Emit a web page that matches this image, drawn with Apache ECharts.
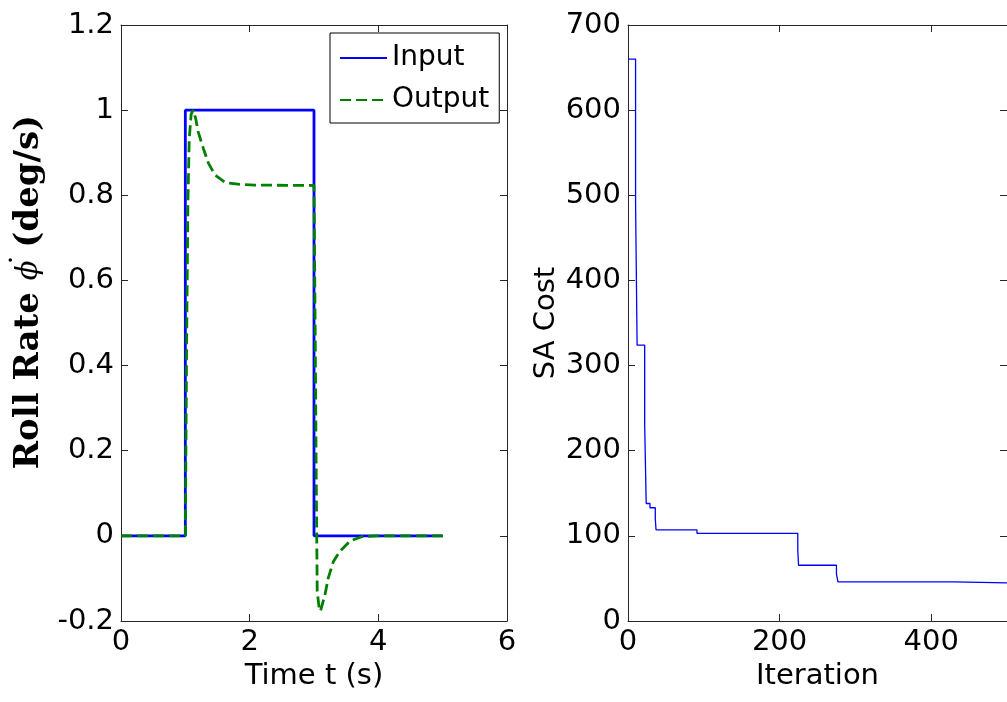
<!DOCTYPE html>
<html><head><meta charset="utf-8">
<script src="https://cdn.jsdelivr.net/npm/echarts@6/dist/echarts.min.js"></script>
<style>html,body{margin:0;padding:0;background:#fff;overflow:hidden}#c{width:1007px;height:702px}</style>
</head><body><div id="c"></div>
<script>
// ---- data ----
const timeTicks = [0, 2, 4, 6];
const rateTicks = [-0.2, 0, 0.2, 0.4, 0.6, 0.8, 1, 1.2];
const iterTicks = [0, 200, 400];
const iterMax = 500;
const costTicks = [0, 100, 200, 300, 400, 500, 600, 700];

const inputT = [0, 1, 1, 3, 3, 5];
const inputV = [0, 0, 1, 1, 0, 0];

const outputT = [0, 1.0, 1.02, 1.04, 1.06, 1.09, 1.12, 1.16, 1.2, 1.28, 1.36, 1.46, 1.62, 1.82, 2.08, 3.0, 3.02, 3.035, 3.05, 3.08, 3.10, 3.17, 3.22, 3.30, 3.40, 3.56, 3.74, 3.97, 5.0];
const outputV = [0, 0, 0.45, 0.78, 0.93, 0.99, 1.0, 0.981, 0.949, 0.91, 0.875, 0.848, 0.83, 0.826, 0.824, 0.823, 0.45, 0.13, -0.13, -0.17, -0.177, -0.139, -0.10, -0.061, -0.037, -0.012, -0.002, 0, 0];

const costIter = [0, 10, 12, 22, 24, 29, 36, 37, 91, 224, 225, 275, 277, 430, 500];
const costVal  = [660, 491, 324, 231, 138, 133, 120, 107, 103, 83, 65.5, 55, 46, 44.7, 44.7];

// ---- chart ----
const zip = (a, b) => a.map((v, i) => [v, b[i]]);
const SANS = 'DejaVu Sans';
const AX = '#262626';
const FS = 29;

function axisBase(ticks, max, gridIndex) {
  const interval = ticks[1] - ticks[0];
  return {
    gridIndex, type: 'value', min: ticks[0], max: max, interval,
    axisLine: { show: true, onZero: false, lineStyle: { color: AX, width: 1 } },
    axisTick: { show: true, inside: true, length: 7, lineStyle: { color: AX } },
    splitLine: { show: false },
    axisLabel: { show: true, color: '#000', fontFamily: SANS, fontSize: FS, margin: 7 }
  };
}
function mirror(ax, pos) {
  return Object.assign({}, ax, { position: pos, name: '', axisLabel: { show: false } });
}

const LBL = 34;
const xLeft = Object.assign(axisBase(timeTicks, timeTicks[timeTicks.length - 1], 0), {
  position: 'bottom', name: 'Time t (s)', nameLocation: 'middle', nameGap: 41,
  nameTextStyle: { color: '#000', fontFamily: SANS, fontSize: FS }
});
const yLeft = Object.assign(axisBase(rateTicks, rateTicks[rateTicks.length - 1], 0), {
  position: 'left', nameLocation: 'middle', nameGap: 72, nameRotate: 90,
  name: '{b|Roll Rate }{i|\u03D5}{d|\u02D9}{b| (deg/s)}',
  nameTextStyle: {
    color: '#000', padding: [0, 0, 0, 62],
    rich: {
      b: { fontFamily: 'DejaVu Serif', fontWeight: 'bold', fontSize: LBL, color: '#000', lineHeight: 40 },
      i: { fontFamily: 'DejaVu Serif', fontStyle: 'italic', fontSize: 29, color: '#000', lineHeight: 40 },
      d: { fontFamily: 'DejaVu Serif', fontSize: 30, color: '#000', width: 1, align: 'right', verticalAlign: 'top', lineHeight: 24 }
    }
  }
});
const xRight = Object.assign(axisBase(iterTicks, iterMax, 1), {
  position: 'bottom', name: 'Iteration', nameLocation: 'middle', nameGap: 41,
  nameTextStyle: { color: '#000', fontFamily: SANS, fontSize: FS },
  axisLabel: { show: true, color: '#000', fontFamily: SANS, fontSize: FS, margin: 7, showMaxLabel: false }
});
const yRight = Object.assign(axisBase(costTicks, costTicks[costTicks.length - 1], 1), {
  position: 'left', name: 'SA Cost', nameLocation: 'middle', nameGap: 67, nameRotate: 90,
  nameTextStyle: { color: '#000', fontFamily: SANS, fontSize: FS }
});

const option = {
  animation: false,
  backgroundColor: '#fff',
  textStyle: { fontFamily: SANS },
  grid: [
    { left: 121, top: 25, width: 386, height: 596, containLabel: false },
    { left: 628, top: 25, width: 386, height: 596, containLabel: false }
  ],
  xAxis: [xLeft, mirror(xLeft, 'top'), xRight, mirror(xRight, 'top')],
  yAxis: [yLeft, mirror(yLeft, 'right'), yRight, mirror(yRight, 'right')],
  legend: {
    data: ['Input', 'Output'], orient: 'vertical', left: 330, top: 33,
    itemWidth: 47, itemHeight: 14, itemGap: 14, padding: [11, 10, 9, 9],
    borderColor: '#000', borderWidth: 1, backgroundColor: '#fff',
    selectedMode: false,
    itemStyle: { opacity: 0, color: 'rgba(0,0,0,0)', borderWidth: 0 },
    textStyle: { color: '#000', fontFamily: SANS, fontSize: 28 }
  },
  series: [
    { name: 'Input', type: 'line', xAxisIndex: 0, yAxisIndex: 0, symbol: 'none', z: 2,
      data: zip(inputT, inputV), lineStyle: { color: '#0000ff', width: 2.8 }, itemStyle: { color: '#0000ff' } },
    { name: 'Output', type: 'line', xAxisIndex: 0, yAxisIndex: 0, symbol: 'none', z: 3,
      data: zip(outputT, outputV), lineStyle: { color: '#008000', width: 2.8, type: [11, 5] }, itemStyle: { color: '#008000' } },
    { name: 'Cost', type: 'line', xAxisIndex: 2, yAxisIndex: 2, symbol: 'none', step: 'end',
      data: zip(costIter, costVal), lineStyle: { color: '#0000ff', width: 1.3 }, itemStyle: { color: '#0000ff' } }
  ]
};
const chart = echarts.init(document.getElementById('c'), null, { renderer: 'canvas' });
chart.setOption(option);
</script>
</body></html>
